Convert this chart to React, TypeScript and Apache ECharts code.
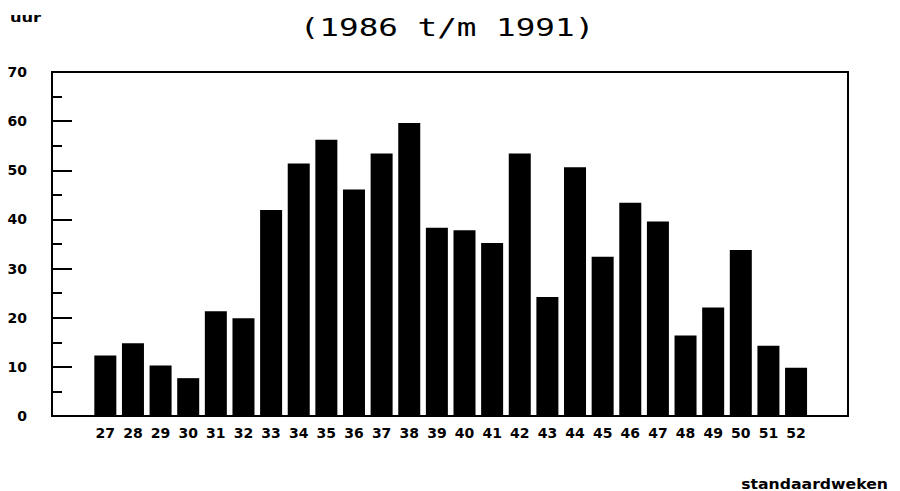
import React, { useEffect, useRef } from "react";
import * as echarts from "echarts";

const weeks = [27, 28, 29, 30, 31, 32, 33, 34, 35, 36, 37, 38, 39, 40, 41, 42, 43, 44, 45, 46, 47, 48, 49, 50, 51, 52];
const hours = [12.3, 14.8, 10.3, 7.7, 21.3, 19.9, 41.9, 51.4, 56.2, 46.1, 53.4, 59.6, 38.3, 37.8, 35.2, 53.4, 24.2, 50.6, 32.4, 43.4, 39.6, 16.4, 22.1, 33.8, 14.3, 9.8];
const titleText = "(1986 t/m 1991)";
const yAxisName = "uur";
const xAxisName = "standaardweken";

export default function App() {
  const ref = useRef<HTMLDivElement>(null);
  useEffect(() => {
    if (!ref.current) return;
    const chart = echarts.init(ref.current, null, { renderer: "svg" });
    const font = "DejaVu Sans";
    chart.setOption({
      animation: false,
      backgroundColor: "#fff",
      grid: {
        left: 52,
        right: 52,
        top: 72,
        bottom: 75,
        show: true,
        borderColor: "#000",
        borderWidth: 2,
      },
      graphic: [
        {
          type: "text",
          x: 447,
          y: 28,
          scaleX: 1.36,
          style: {
            text: titleText,
            fill: "#000",
            font: "24px 'DejaVu Sans Mono'",
            textAlign: "center",
            textVerticalAlign: "middle",
          },
        },
        {
          type: "text",
          x: 10,
          y: 17,
          scaleX: 1.25,
          style: {
            text: yAxisName,
            fill: "#000",
            font: "bold 13px 'DejaVu Sans'",
            textAlign: "left",
            textVerticalAlign: "middle",
          },
        },
        {
          type: "text",
          x: 888,
          y: 484,
          scaleX: 1.12,
          style: {
            text: xAxisName,
            fill: "#000",
            font: "bold 14px 'DejaVu Sans'",
            textAlign: "right",
            textVerticalAlign: "middle",
          },
        },
      ],
      xAxis: {
        type: "value",
        min: 25.07,
        max: 53.88,
        axisLine: { show: true, lineStyle: { color: "#000", width: 2 } },
        axisTick: { show: false },
        splitLine: { show: false },
        axisLabel: {
          customValues: weeks,
          color: "#000",
          fontFamily: font,
          fontWeight: "bold",
          fontSize: 14,
          margin: 10,
        },
      },
      yAxis: {
        type: "value",
        min: 0,
        max: 70,
        interval: 10,
        axisLine: { show: true, lineStyle: { color: "#000", width: 2 } },
        axisTick: { show: true, inside: true, length: 20, lineStyle: { color: "#000", width: 2 } },
        minorTick: { show: true, splitNumber: 2, length: 10, lineStyle: { color: "#000", width: 2 } },
        splitLine: { show: false },
        axisLabel: {
          color: "#000",
          fontFamily: font,
          fontWeight: "bold",
          fontSize: 14,
          margin: 25,
        },
      },
      series: [
        {
          type: "bar",
          data: weeks.map((w, i) => [w, hours[i]]),
          barWidth: 22,
          itemStyle: { color: "#000" },
        },
      ],
    });
    return () => chart.dispose();
  }, []);
  return (
    <div
      ref={ref}
      style={{ position: "absolute", left: 0, top: 0, width: 900, height: 491 }}
    />
  );
}
